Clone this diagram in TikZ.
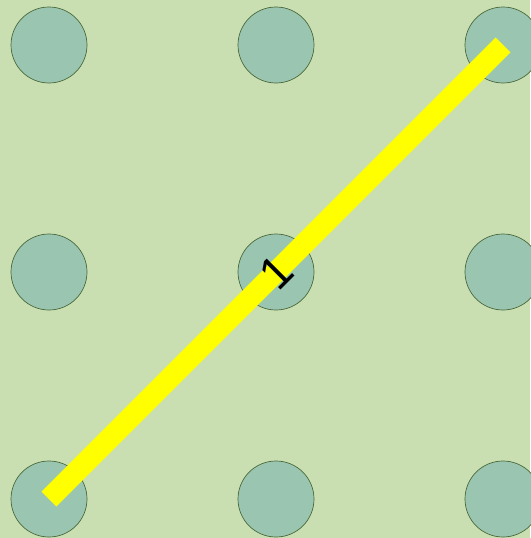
\documentclass[tikz,border=0pt]{standalone}
\usepackage{fontspec}
\setmainfont{Liberation Sans}
\usetikzlibrary{positioning}
\definecolor{bgGreen}{HTML}{CADFB1}
\definecolor{dotFill}{HTML}{9AC5B0}
\definecolor{dotLine}{HTML}{4A6A3A}
\definecolor{pathYellow}{HTML}{FFFF00}

\begin{document}
\begin{tikzpicture}[
    x=1pt, y=-1pt,
    dot/.style={circle, draw=dotLine, fill=dotFill, line width=0.7pt, minimum size=76pt, inner sep=0pt},
    link/.style={draw=pathYellow, line width=21pt, line cap=butt},
    wlabel/.style={font=\fontsize{46}{50}\selectfont, text=black, rotate=45, inner sep=0pt}
]
\fill[bgGreen] (0,0) rectangle (530,538);
\useasboundingbox (0,0) rectangle (530,538);
\node[dot] (d11) at (49,45) {};
\node[dot] (d12) at (276,45) {};
\node[dot] (d13) at (503,45) {};
\node[dot] (d21) at (49,272) {};
\node[dot] (d22) at (276,272) {};
\node[dot] (d23) at (503,272) {};
\node[dot] (d31) at (49,499) {};
\node[dot] (d32) at (276,499) {};
\node[dot] (d33) at (503,499) {};
\draw[link] (d31.center) -- (d13.center) node[wlabel, midway] (w1) {1};
\end{tikzpicture}
\end{document}
